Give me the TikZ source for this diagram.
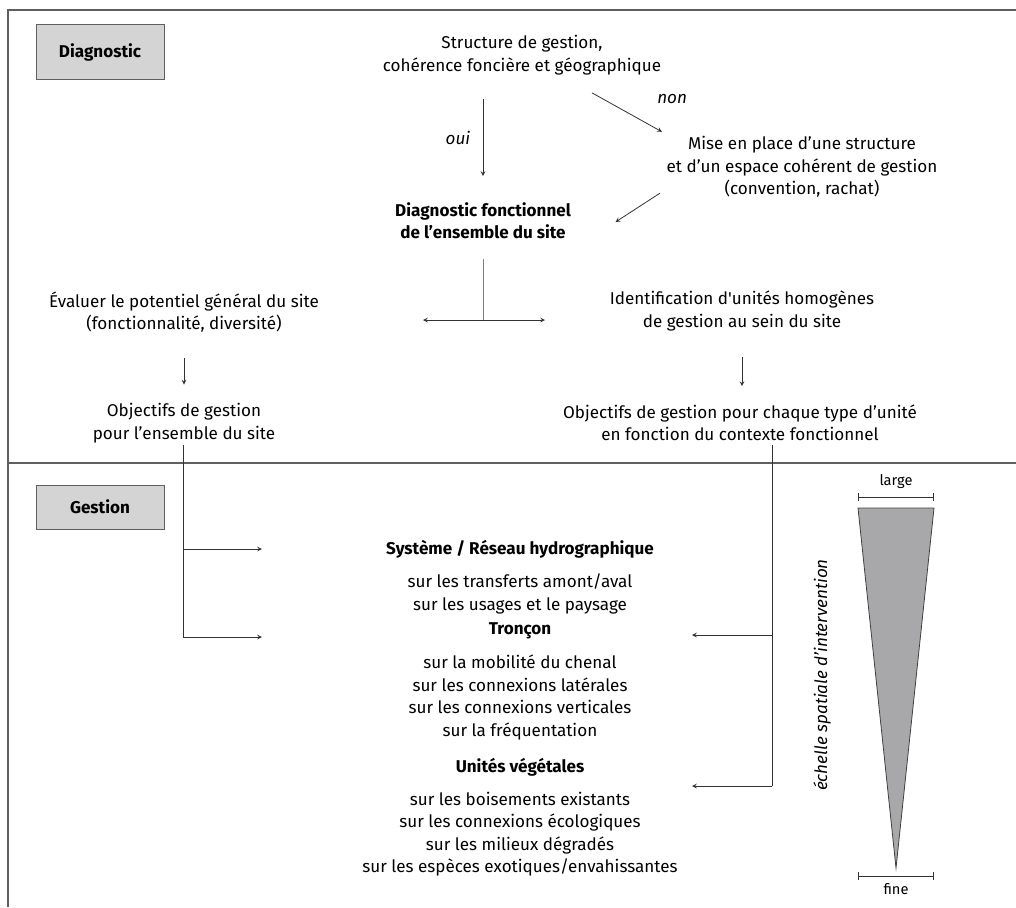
\documentclass[tikz,border=0pt]{standalone}
\usepackage{fontspec}
\setmainfont{Fira Sans}
\usetikzlibrary{positioning}
\usetikzlibrary{calc}
\definecolor{boxgray}{RGB}{212,212,212}
\definecolor{linegray}{RGB}{95,95,95}
\definecolor{wedgegray}{RGB}{168,168,170}

\begin{document}
\begin{tikzpicture}[>=stealth,x=0.75pt,y=-0.75pt,
	every node/.style={font=\fontsize{12.8}{16.8}\selectfont,align=center,text=black},
	headbox/.style={draw=linegray,fill=boxgray,minimum width=96pt,font=\fontsize{12.8}{16.8}\selectfont\bfseries},
	headline/.style={font=\fontsize{12.8}{16.8}\selectfont\bfseries},
	conn/.style={draw=black!80,line width=.6pt}
	]
	\useasboundingbox (0,0) rectangle (1016,907);
	% frame and divider
	\draw[linegray,line width=1.6pt] (8,907) -- (8,10) -- (1016,10);
	\draw[linegray,line width=.8pt] (8,463) -- (1016,463);
	% section boxes
	\node[headbox,minimum height=41pt] (diag) at (100,52) {Diagnostic};
	\node[headbox,minimum height=33pt] (gest) at (100,507) {Gestion};
	% diagnostic part
	\node (struct) at (522,55) {Structure de gestion,\\coh\'erence fonci\`ere et g\'eographique};
	\node (mise) at (802,167) {Mise en place d’une structure\\et d’un espace coh\'erent de gestion\\(convention, rachat)};
	\node[headline] (diagf) at (483,221) {Diagnostic fonctionnel\\de l’ensemble du site};
	\node (evaluer) at (184,312) {\'Evaluer le potentiel g\'en\'eral du site\\(fonctionnalit\'e, diversit\'e)};
	\node (ident) at (742,311) {Identification d\textquotesingle unit\'es homog\`enes\\de gestion au sein du site};
	\node (objg) at (184,423) {Objectifs de gestion\\pour l’ensemble du site};
	\node (objc) at (740,423) {Objectifs de gestion pour chaque type d’unit\'e\\en fonction du contexte fonctionnel};
	\draw[conn,->] ($(struct.south -| diagf)+(0,20)$) -- ($(diagf.north)+(0,-22)$) node [midway,left=6pt] {\itshape oui};
	\draw[conn,->] ($(mise.north west)+(-70,-39)$) -- ($(mise.north west)+(0,0)$) node [pos=.75,above right=10pt and 6pt] {\itshape non};
	\draw[conn,->] ($(mise.south west)+(-2,-9)$) -- ($(diagf.east)+(40,1)$);
	\coordinate (split) at (483,320);
	\draw[conn,draw=black!50] ($(diagf.south)+(0,15)$) -- (split);
	\draw[conn,<->] ($(split)+(-60,0)$) -- ($(split)+(62,0)$);
	\draw[conn,->] ($(evaluer.south)+(0,21)$) -- ($(objg.north)+(0,-14)$);
	\draw[conn,->] ($(ident.south -| 742,0)+(0,21)$) -- ($(objc.north -| 742,0)+(0,-14)$);
	% gestion part
	\node[headline] (sys) at (520,549) {Syst\`eme / R\'eseau hydrographique};
	\node[below=5pt of sys] (sysl) {sur les transferts amont/aval\\sur les usages et le paysage};
	\node[headline] (tron) at (520,631) {Tron\c{c}on};
	\node[below=5pt of tron] (tronl) {sur la mobilit\'e du chenal\\sur les connexions lat\'erales\\sur les connexions verticales\\sur la fr\'equentation};
	\node[headline] (unit) at (520,767) {Unit\'es v\'eg\'etales};
	\node[below=5pt of unit] (unitl) {sur les boisements existants\\sur les connexions \'ecologiques\\sur les milieux d\'egrad\'es\\sur les esp\`eces exotiques/envahissantes};
	\coordinate (ltap) at (183,445);
	\coordinate (rtap) at (772,445);
	\draw[conn] (ltap) -- (ltap |- 0,637);
	\draw[conn,->] (ltap |- sys) -- ++(79,0);
	\draw[conn,->] (ltap |- 0,637) -- ++(79,0);
	\draw[conn] (rtap) -- (rtap |- 0,786);
	\draw[conn,->] (rtap |- 0,635) -- ++(-80,0);
	\draw[conn,->] (rtap |- 0,786) -- ++(-80,0);
	% spatial scale
	\node[rotate=90,font=\fontsize{12.8}{16.8}\selectfont\itshape] (scalelbl) at (822,675) {\'echelle spatiale d’intervention};
	\filldraw[fill=wedgegray,draw=black!75,line width=.6pt] (858,508) -- (934,508) -- (896,868) -- cycle;
	\draw[conn,|-|] (858,497) -- (934,497) node [midway,above=3pt,font=\fontsize{11}{13}\selectfont] (large) {large};
	\draw[conn,|-|] (858,876) -- (934,876) node [midway,below=2pt,font=\fontsize{11}{13}\selectfont] (fine) {fine};
\end{tikzpicture}
\end{document}
